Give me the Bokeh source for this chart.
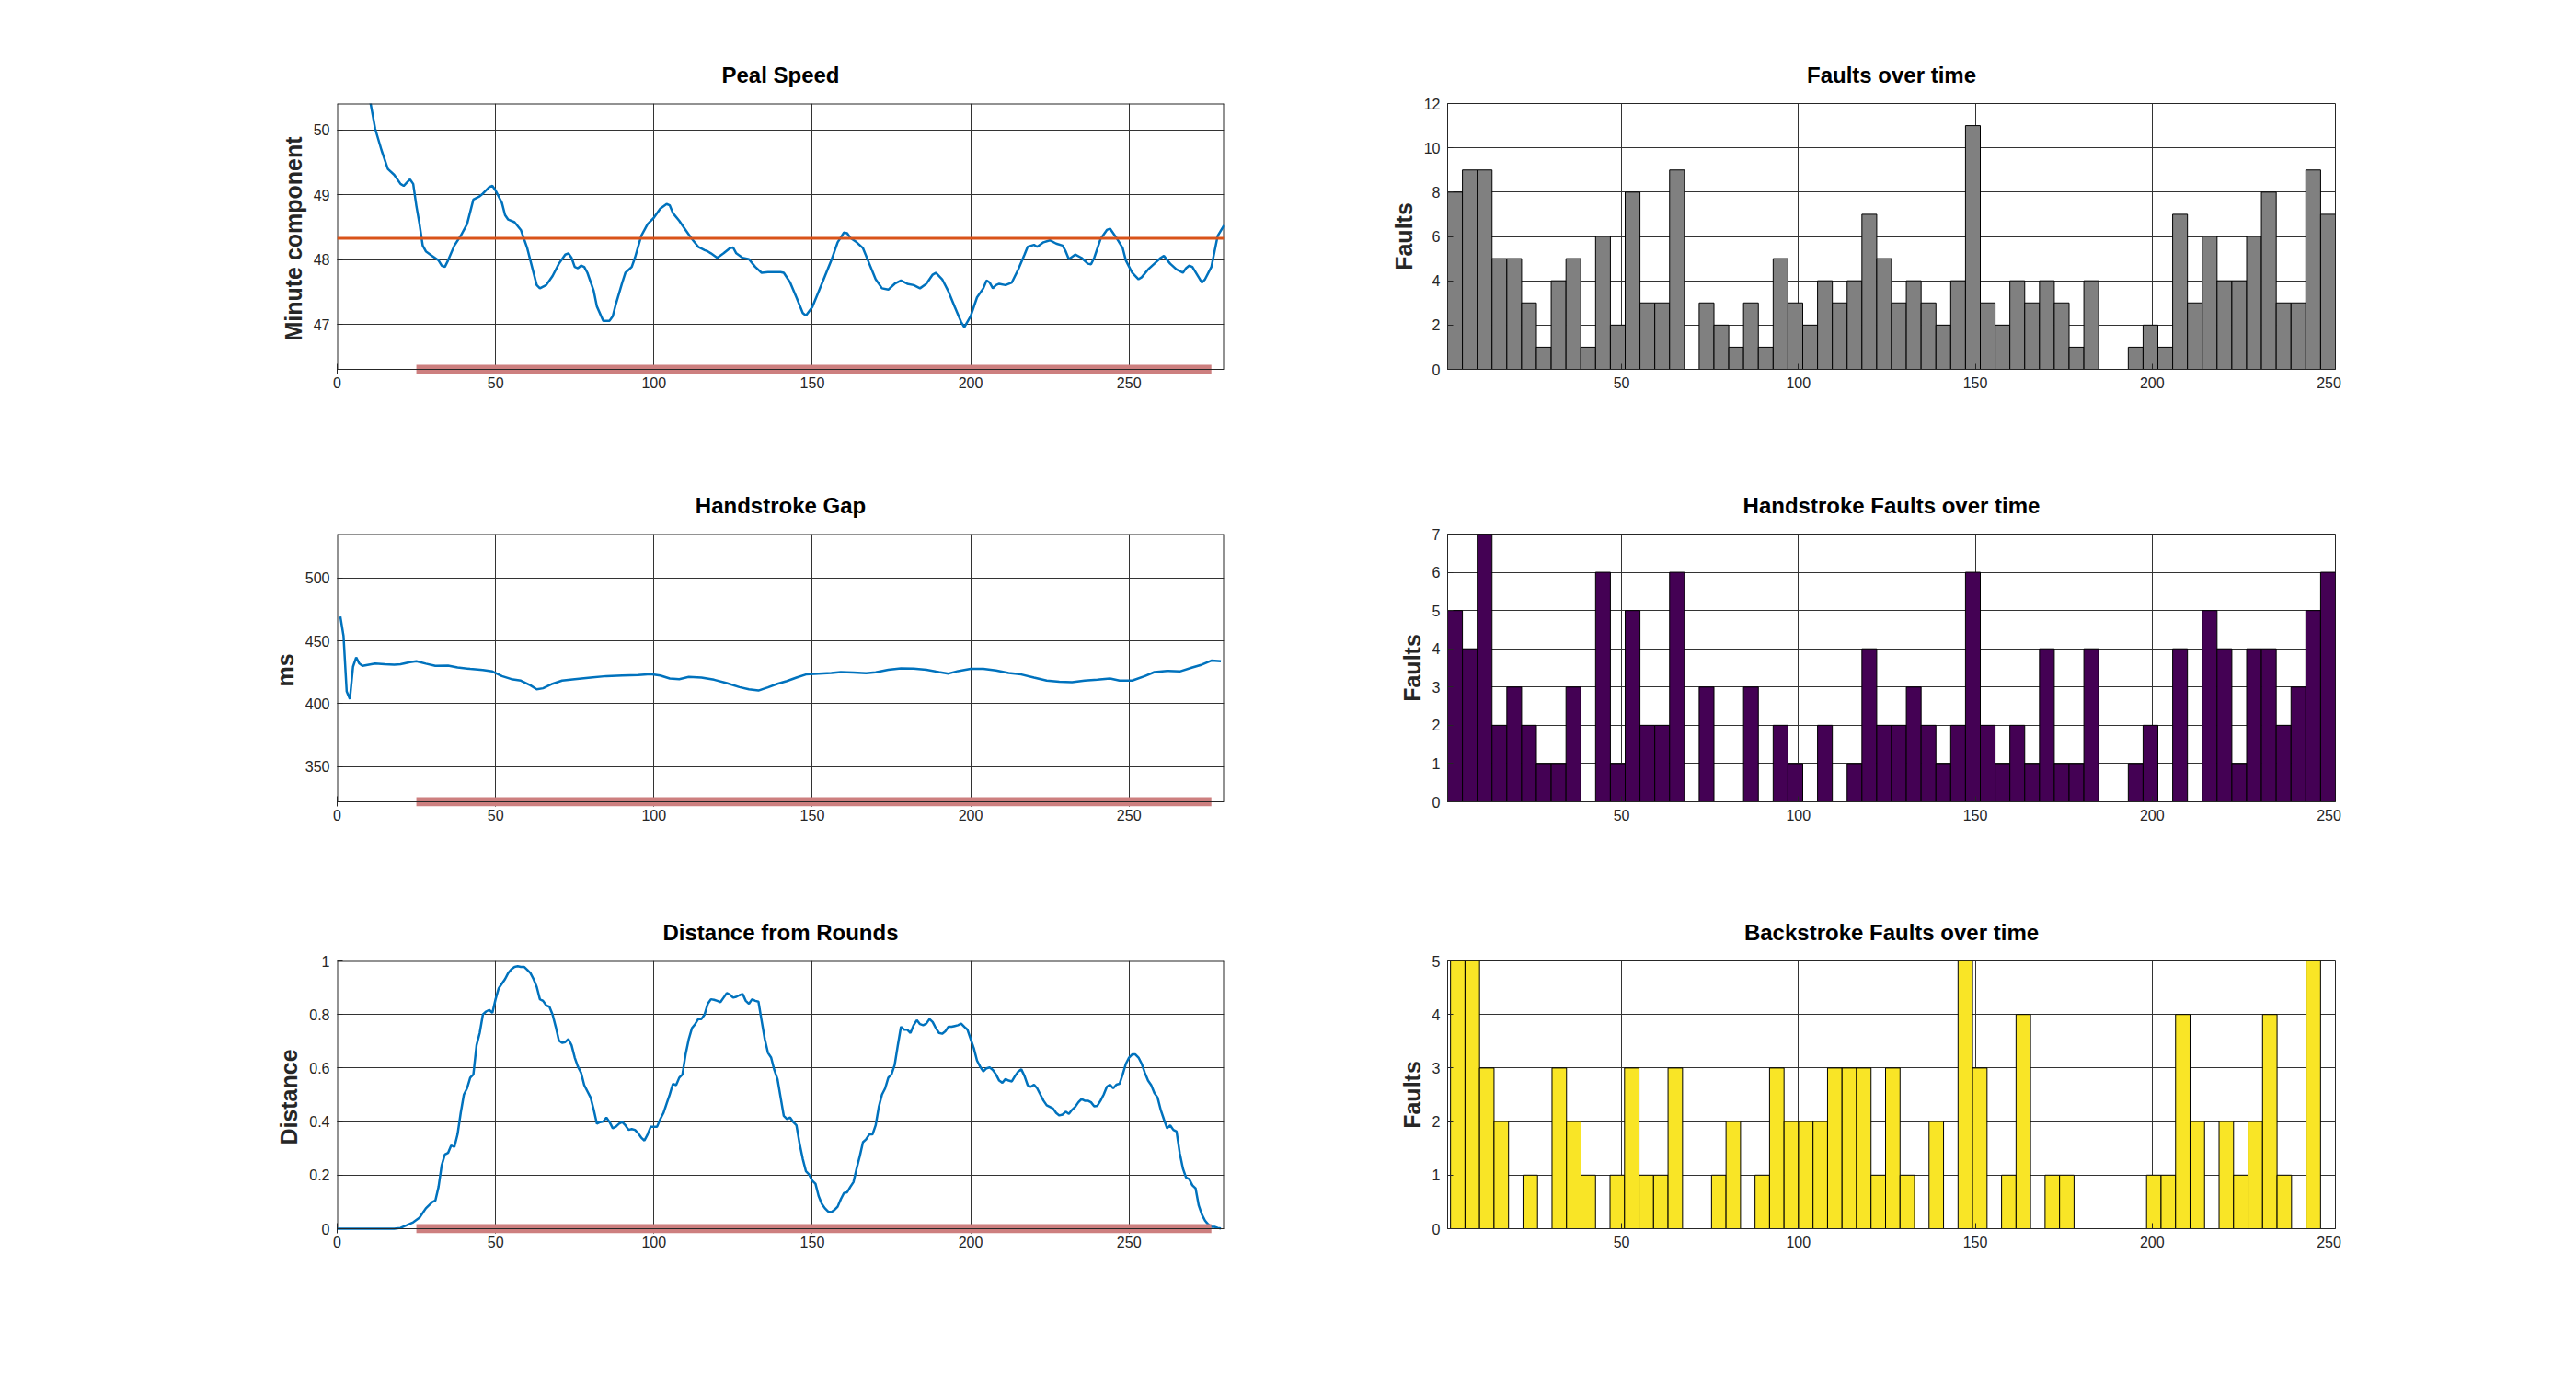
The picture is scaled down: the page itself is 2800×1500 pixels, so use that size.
import numpy as np

from bokeh.plotting import figure
from bokeh.models import BoxAnnotation, Span, FixedTicker, Range1d
from bokeh.layouts import column, row
from bokeh.embed import file_html
from bokeh.resources import INLINE

# --- Peal Speed (minute component) ---
peal_x = [8, 12, 14, 16, 18, 20, 21, 22, 23, 24, 25, 26, 27, 28, 30, 32, 33, 34, 35, 37,
          39, 41, 43, 45, 46, 48, 49, 50, 52, 53, 54, 56, 58, 60, 61, 63, 64, 66, 68, 70,
          72, 73, 74, 75, 76, 77, 78, 79, 81, 82, 84, 86, 87, 88, 90, 91, 93, 94, 96, 98,
          100, 102, 104, 105, 106, 108, 110, 112, 114, 116, 117, 118, 120, 122, 124, 125, 126, 128, 130, 132,
          134, 136, 138, 140, 141, 143, 145, 147, 148, 150, 152, 154, 156, 158, 160, 161, 162, 164, 166, 168,
          170, 172, 174, 176, 178, 180, 182, 184, 186, 188, 189, 191, 193, 195, 197, 198, 200, 202, 204, 205,
          206, 207, 208, 209, 211, 213, 215, 217, 218, 220, 221, 223, 225, 227, 229, 230, 231, 233, 235, 237,
          238, 239, 241, 243, 244, 246, 248, 249, 251, 253, 254, 256, 258, 260, 261, 263, 265, 267, 268, 269,
          270, 272, 273, 274, 276, 277, 278, 280]
peal_y = [51.10, 50.02, 49.69, 49.40, 49.31, 49.17, 49.14, 49.19, 49.24, 49.17, 48.83, 48.55, 48.22, 48.13, 48.06, 47.99, 47.91, 47.89, 47.99, 48.22,
          48.37, 48.55, 48.93, 48.98, 49.02, 49.12, 49.14, 49.07, 48.88, 48.69, 48.62, 48.58, 48.46, 48.18, 47.99, 47.61, 47.56, 47.61, 47.75, 47.94,
          48.08, 48.10, 48.03, 47.89, 47.87, 47.91, 47.89, 47.80, 47.52, 47.28, 47.06, 47.06, 47.13, 47.32, 47.65, 47.80, 47.89, 48.03, 48.37, 48.55,
          48.65, 48.79, 48.86, 48.84, 48.72, 48.60, 48.46, 48.32, 48.20, 48.15, 48.13, 48.10, 48.03, 48.10, 48.18, 48.19, 48.10, 48.03, 48.01, 47.89,
          47.80, 47.81, 47.81, 47.81, 47.80, 47.65, 47.42, 47.18, 47.14, 47.27, 47.51, 47.75, 47.99, 48.27, 48.42, 48.41, 48.34, 48.27, 48.18, 47.94,
          47.70, 47.56, 47.54, 47.63, 47.68, 47.63, 47.61, 47.56, 47.63, 47.77, 47.80, 47.70, 47.51, 47.27, 47.04, 46.96, 47.13, 47.42, 47.56, 47.68,
          47.65, 47.56, 47.61, 47.63, 47.61, 47.65, 47.85, 48.08, 48.20, 48.23, 48.20, 48.27, 48.30, 48.25, 48.22, 48.13, 48.01, 48.08, 48.03, 47.94,
          47.93, 48.03, 48.32, 48.46, 48.48, 48.34, 48.18, 47.99, 47.80, 47.70, 47.73, 47.85, 47.94, 48.03, 48.06, 47.94, 47.85, 47.80, 47.87, 47.91,
          47.89, 47.73, 47.65, 47.70, 47.89, 48.13, 48.37, 48.53]
peal_mean = 48.33

# --- Handstroke Gap (ms) ---
hand_x = [1, 2, 3, 4, 5, 6, 7, 8, 10, 12, 15, 18, 20, 23, 25, 28, 31, 35, 38, 42,
          46, 49, 52, 55, 58, 61, 63, 65, 68, 71, 75, 80, 85, 90, 95, 99, 102, 105, 108, 111,
          115, 119, 123, 127, 130, 133, 136, 139, 142, 145, 148, 152, 156, 159, 163, 167, 170, 174, 178, 182,
          186, 190, 193, 196, 200, 204, 208, 212, 216, 220, 224, 228, 232, 236, 240, 244, 247, 251, 255, 258,
          262, 266, 270, 273, 276, 279]
hand_y = [469.4, 453.9, 409.8, 403.7, 429.4, 436.8, 431.9, 430.1, 431.1, 431.9, 431.4, 431.1, 431.4, 433.1, 433.8, 431.9, 430.1, 430.4, 428.9, 427.7,
          426.9, 425.7, 422.0, 419.6, 418.4, 414.7, 411.5, 412.3, 415.9, 418.4, 419.6, 420.8, 422.0, 422.5, 422.8, 423.5, 422.5, 420.1, 419.6, 421.3,
          420.8, 419.1, 416.4, 413.2, 411.5, 410.5, 413.0, 415.9, 418.1, 420.8, 423.3, 424.0, 424.5, 425.2, 424.8, 424.3, 425.0, 427.0, 428.2, 427.9,
          427.0, 425.2, 424.0, 426.0, 427.7, 427.7, 426.5, 424.5, 423.3, 420.8, 418.4, 417.6, 417.2, 418.4, 419.1, 420.1, 418.4, 418.4, 422.0, 425.2,
          426.2, 425.7, 428.9, 431.1, 434.3, 433.8]

# --- Distance from Rounds ---
dist_x = [0, 18, 20, 22, 24, 26, 28, 30] + list(range(31, 280))
dist_y = [0.0, 0.0, 0.003, 0.013, 0.024, 0.041, 0.076, 0.099,
          0.105, 0.156, 0.237, 0.277, 0.283, 0.311, 0.305, 0.352, 0.432, 0.501,
          0.524, 0.564, 0.576, 0.685, 0.731, 0.800, 0.811, 0.817, 0.806, 0.857,
          0.898, 0.915, 0.932, 0.955, 0.969, 0.978, 0.980, 0.978, 0.978, 0.967,
          0.955, 0.932, 0.903, 0.857, 0.851, 0.834, 0.829, 0.800, 0.754, 0.703,
          0.694, 0.697, 0.708, 0.685, 0.639, 0.605, 0.582, 0.536, 0.513, 0.490,
          0.444, 0.392, 0.398, 0.400, 0.415, 0.398, 0.375, 0.381, 0.392, 0.398,
          0.386, 0.369, 0.372, 0.369, 0.357, 0.340, 0.329, 0.352, 0.381, 0.381,
          0.381, 0.409, 0.432, 0.467, 0.501, 0.541, 0.536, 0.564, 0.576, 0.651,
          0.708, 0.749, 0.764, 0.783, 0.783, 0.800, 0.840, 0.857, 0.855, 0.851,
          0.846, 0.863, 0.880, 0.874, 0.863, 0.866, 0.872, 0.877, 0.851, 0.840,
          0.857, 0.851, 0.848, 0.777, 0.708, 0.657, 0.639, 0.593, 0.559, 0.490,
          0.421, 0.409, 0.415, 0.398, 0.386, 0.317, 0.260, 0.214, 0.202, 0.179,
          0.168, 0.122, 0.093, 0.076, 0.064, 0.062, 0.070, 0.082, 0.110, 0.133,
          0.136, 0.156, 0.174, 0.225, 0.271, 0.323, 0.334, 0.352, 0.352, 0.386,
          0.455, 0.501, 0.524, 0.564, 0.576, 0.611, 0.685, 0.754, 0.743, 0.743,
          0.731, 0.760, 0.779, 0.764, 0.760, 0.766, 0.783, 0.772, 0.749, 0.731,
          0.728, 0.737, 0.754, 0.754, 0.757, 0.760, 0.766, 0.754, 0.743, 0.708,
          0.674, 0.628, 0.605, 0.587, 0.599, 0.602, 0.593, 0.576, 0.553, 0.545,
          0.559, 0.553, 0.550, 0.570, 0.587, 0.595, 0.570, 0.536, 0.530, 0.538,
          0.524, 0.501, 0.478, 0.461, 0.455, 0.449, 0.432, 0.423, 0.426, 0.437,
          0.429, 0.444, 0.455, 0.472, 0.484, 0.478, 0.478, 0.472, 0.457, 0.459,
          0.478, 0.501, 0.530, 0.538, 0.524, 0.538, 0.541, 0.576, 0.616, 0.639,
          0.651, 0.651, 0.639, 0.616, 0.582, 0.553, 0.536, 0.507, 0.490, 0.444,
          0.409, 0.375, 0.386, 0.369, 0.363, 0.283, 0.225, 0.191, 0.185, 0.162,
          0.151, 0.087, 0.053, 0.030, 0.016, 0.007, 0.007, 0.003, 0.001]

# band marking the analysed section
band_start, band_end = 25, 276

# --- fault histograms (60 bins each) ---
fault_counts = [8, 9, 9, 5, 5, 3, 1, 4, 5, 1, 6, 2, 8, 3, 3, 9, 0, 3, 2, 1,
                3, 1, 5, 3, 2, 4, 3, 4, 7, 5, 3, 4, 3, 2, 4, 11, 3, 2, 4, 3,
                4, 3, 1, 4, 0, 0, 1, 2, 1, 7, 3, 6, 4, 4, 6, 8, 3, 3, 9, 7]
hand_counts = [5, 4, 7, 2, 3, 2, 1, 1, 3, 0, 6, 1, 5, 2, 2, 6, 0, 3, 0, 0,
               3, 0, 2, 1, 0, 2, 0, 1, 4, 2, 2, 3, 2, 1, 2, 6, 2, 1, 2, 1,
               4, 1, 1, 4, 0, 0, 1, 2, 0, 4, 0, 5, 4, 1, 4, 4, 2, 3, 5, 6]
back_counts = [5, 5, 3, 2, 0, 1, 0, 3, 2, 1, 0, 1, 3, 1, 1, 3, 0, 0, 1, 2,
               0, 1, 3, 2, 2, 2, 3, 3, 3, 1, 3, 1, 0, 2, 0, 5, 3, 0, 1, 4,
               0, 1, 1, 0, 0, 0, 0, 0, 1, 1, 4, 2, 0, 2, 1, 2, 4, 1, 0, 5]
fault_range = (0.83, 251.8)
back_range = (1.65, 247.6)

FONT = "Liberation Sans"
INK = "#262626"
BAND_PX = 5  # half thickness of the section band, in pixels


def styled(title, xr, yr, xticks, yticks, left, right, top, bottom, fh, band=False):
    y0, y1 = yr
    y_lo = y0
    extra = 0
    if band:
        # grow the frame downward so the band can reach below the axis line
        extra = BAND_PX
        y_lo = y0 - (y1 - y0) * BAND_PX / fh
    p = figure(title=title, x_range=Range1d(*xr), y_range=Range1d(y_lo, y1),
               frame_width=964 if left > 200 else 965, frame_height=fh + extra,
               min_border_left=left, min_border_right=right,
               min_border_top=top, min_border_bottom=bottom - extra,
               output_backend="svg", toolbar_location=None)
    p.title.align = "center"
    p.title.text_font = FONT
    p.title.text_font_size = "24px"
    p.title.text_font_style = "bold"
    p.title.text_color = "black"
    p.title.standoff = 35
    p.background_fill_color = "white"
    p.border_fill_color = "white"
    p.xaxis.ticker = FixedTicker(ticks=xticks)
    p.yaxis.ticker = FixedTicker(ticks=yticks)
    for ax in (p.xaxis, p.yaxis):
        ax.axis_line_color = INK
        ax.major_tick_line_color = INK
        ax.major_tick_in = 6
        ax.major_tick_out = 0
        ax.minor_tick_line_color = None
        ax.major_label_text_font = FONT
        ax.major_label_text_font_size = "16px"
        ax.major_label_text_color = INK
        ax.axis_label_text_font = FONT
        ax.axis_label_text_font_size = "25px"
        ax.axis_label_text_font_style = "bold"
        ax.axis_label_text_color = INK
    p.xaxis.major_label_standoff = 8
    p.yaxis.major_label_standoff = 8
    p.grid.grid_line_color = "#333333"
    p.grid.grid_line_alpha = 1
    p.grid.grid_line_width = 1
    if band:
        # frame edges drawn by hand, the bottom one sits above the frame edge
        p.outline_line_color = None
        p.xaxis.axis_line_color = None
        p.yaxis.axis_line_color = None
        p.xaxis.major_tick_in = 6 + BAND_PX
        p.xaxis.major_label_standoff = 8 - BAND_PX
        p.segment(x0=[xr[0], xr[1]], y0=[y0, y0], x1=[xr[0], xr[1]], y1=[y1, y1],
                  line_color=INK, line_width=2)
        p.add_layout(Span(location=y1, dimension="width", line_color=INK, line_width=2))
        p.add_layout(BoxAnnotation(left=band_start, right=band_end,
                                   bottom=y_lo, top=y0 + (y0 - y_lo),
                                   fill_color="#cd7f7f", fill_alpha=1,
                                   line_color=None, level="annotation"))
        p.add_layout(Span(location=y0, dimension="width", line_color=INK, line_width=1))
    else:
        p.outline_line_color = INK
        p.outline_line_alpha = 1
        p.outline_line_width = 1
    return p


xt_left = [0, 50, 100, 150, 200, 250]
xt_right = [50, 100, 150, 200, 250]
BLUE = "#0072BD"

# row 1
p1 = styled("Peal Speed", (0, 280), (46.31, 50.41), xt_left, [47, 48, 49, 50],
            366, 120, 112, 79, 289, band=True)
p1.yaxis.axis_label = "Minute component"
p1.line(peal_x, peal_y, line_color=BLUE, line_width=2.5)
p1.add_layout(Span(location=peal_mean, dimension="width", line_color="#D95319", line_width=3))

p2 = styled("Faults over time", fault_range, (0, 12), xt_right, [0, 2, 4, 6, 8, 10, 12],
            123, 100, 112, 79, 289)
p2.yaxis.axis_label = "Faults"
edges = np.linspace(fault_range[0], fault_range[1], len(fault_counts) + 1)
p2.quad(left=edges[:-1], right=edges[1:], bottom=0, top=fault_counts,
        fill_color="#808080", line_color="black", line_width=1)

# row 2
p3 = styled("Handstroke Gap", (0, 280), (322, 535), xt_left, [350, 400, 450, 500],
            366, 120, 100, 77, 291, band=True)
p3.yaxis.axis_label = "ms"
p3.line(hand_x, hand_y, line_color=BLUE, line_width=2.5)

p4 = styled("Handstroke Faults over time", fault_range, (0, 7), xt_right,
            [0, 1, 2, 3, 4, 5, 6, 7], 123, 100, 100, 77, 291)
p4.yaxis.axis_label = "Faults"
p4.quad(left=edges[:-1], right=edges[1:], bottom=0, top=hand_counts,
        fill_color="#440154", line_color="black", line_width=1)

# row 3
p5 = styled("Distance from Rounds", (0, 280), (0, 1), xt_left,
            [0, 0.2, 0.4, 0.6, 0.8, 1], 366, 120, 96, 60, 291, band=True)
p5.yaxis.axis_label = "Distance"
p5.yaxis.major_label_overrides = {0: "0", 1: "1"}
p5.line(dist_x, dist_y, line_color=BLUE, line_width=2.5)

p6 = styled("Backstroke Faults over time", fault_range, (0, 5), xt_right,
            [0, 1, 2, 3, 4, 5], 123, 100, 96, 60, 291)
p6.yaxis.axis_label = "Faults"
bedges = np.linspace(back_range[0], back_range[1], len(back_counts) + 1)
p6.quad(left=bedges[:-1], right=bedges[1:], bottom=0, top=back_counts,
        fill_color="#f9e526", line_color="black", line_width=1)

layout = column(row(p1, p2), row(p3, p4), row(p5, p6))

open("out.html", "w").write(file_html(layout, INLINE))
